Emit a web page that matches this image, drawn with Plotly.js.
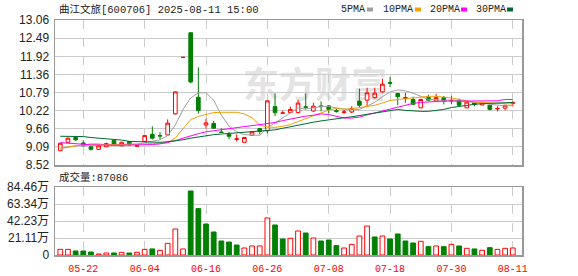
<!DOCTYPE html>
<html>
<head>
<meta charset="utf-8">
<script src="https://cdn.plot.ly/plotly-3.0.1.min.js"></script>
<style>
  html, body { margin: 0; padding: 0; background: #ffffff; }
  #chart { width: 578px; height: 276px; }
</style>
</head>
<body>
<div id="chart"></div>
<script>
const dates = ['05-19','05-20','05-21','05-22','05-23','05-26','05-27','05-28','05-29','05-30',
  '06-03','06-04','06-05','06-06','06-09','06-10','06-11','06-12','06-13','06-16',
  '06-17','06-18','06-19','06-20','06-23','06-24','06-25','06-26','06-27','06-30',
  '07-01','07-02','07-03','07-04','07-07','07-08','07-09','07-10','07-11','07-14',
  '07-15','07-16','07-17','07-18','07-21','07-22','07-23','07-24','07-25','07-28',
  '07-29','07-30','07-31','08-01','08-04','08-05','08-06','08-07','08-08','08-11'];
const tickLabels = ['05-22','06-04','06-16','06-26','07-08','07-18','07-30','08-11'];

const openP = [8.97,9.23,9.38,9.21,9.09,9.01,9.09,9.29,9.12,9.25,
  9.11,9.26,9.48,9.44,9.46,10.12,11.89,12.66,10.64,9.77,
  9.82,9.55,9.48,9.32,9.23,9.45,9.66,9.59,10.35,10.14,
  10.16,10.16,10.34,10.21,10.37,10.37,10.22,10.17,10.18,10.52,
  10.55,10.63,10.81,11.10,10.76,10.60,10.57,10.31,10.63,10.52,
  10.63,10.53,10.55,10.31,10.47,10.40,10.39,10.28,10.30,10.45];
const highP = [9.21,9.38,9.39,9.30,9.10,9.14,9.22,9.30,9.25,9.26,
  9.15,9.45,9.73,9.55,9.95,10.82,11.89,12.67,11.58,9.97,
  9.90,9.67,9.56,9.48,9.40,9.58,9.68,10.54,10.76,10.22,
  10.35,10.56,10.76,10.47,10.51,10.40,10.28,10.25,10.36,10.91,
  10.94,10.94,11.22,11.28,10.78,10.78,10.66,10.60,10.72,10.75,
  10.68,10.68,10.60,10.50,10.49,10.48,10.40,10.36,10.40,10.52];
const lowP = [8.95,9.21,9.27,9.10,8.97,9.00,9.08,9.14,9.11,9.14,
  9.10,9.25,9.32,9.32,9.44,10.10,11.89,11.08,10.13,9.66,
  9.66,9.53,9.33,9.26,9.22,9.44,9.48,9.51,10.05,10.12,
  10.14,10.14,10.26,10.19,10.20,10.14,10.16,10.12,10.14,10.31,
  10.36,10.60,10.78,10.96,10.39,10.47,10.41,10.30,10.53,10.50,
  10.42,10.42,10.38,10.30,10.36,10.39,10.23,10.20,10.23,10.35];
const closeP = [9.20,9.36,9.31,9.12,9.01,9.12,9.19,9.17,9.23,9.15,
  9.12,9.44,9.36,9.43,9.83,10.81,11.89,11.12,10.23,9.84,
  9.67,9.54,9.42,9.34,9.38,9.56,9.57,10.53,10.16,10.15,
  10.26,10.46,10.33,10.36,10.35,10.26,10.20,10.18,10.29,10.39,
  10.78,10.77,11.05,11.08,10.66,10.63,10.42,10.57,10.55,10.63,
  10.52,10.54,10.39,10.49,10.42,10.47,10.26,10.29,10.39,10.47];

const ma5 = [9.03,9.08,9.12,9.15,9.18,9.18,9.15,9.13,9.14,9.17,
  9.17,9.22,9.26,9.31,9.44,9.77,10.26,10.62,10.78,10.78,
  10.55,10.08,9.74,9.56,9.47,9.45,9.45,9.68,9.84,10.00,
  10.14,10.31,10.27,10.31,10.35,10.35,10.30,10.27,10.25,10.26,
  10.37,10.48,10.66,10.81,10.87,10.84,10.77,10.67,10.57,10.56,
  10.54,10.56,10.53,10.51,10.47,10.46,10.41,10.39,10.37,10.38];
const ma10 = [9.05,9.09,9.12,9.14,9.15,9.16,9.17,9.17,9.17,9.17,
  9.17,9.18,9.19,9.20,9.21,9.37,9.64,9.94,10.04,10.11,
  10.16,10.17,10.18,10.17,10.12,10.00,9.77,9.71,9.70,9.73,
  9.79,9.88,9.97,10.08,10.17,10.24,10.29,10.27,10.28,10.31,
  10.36,10.39,10.46,10.54,10.57,10.60,10.62,10.65,10.67,10.67,
  10.65,10.62,10.57,10.52,10.49,10.48,10.46,10.45,10.44,10.43];
const ma20 = [9.22,9.21,9.19,9.17,9.15,9.14,9.14,9.14,9.14,9.14,
  9.14,9.15,9.16,9.18,9.22,9.28,9.36,9.44,9.50,9.56,
  9.59,9.62,9.65,9.68,9.71,9.74,9.77,9.81,9.85,9.91,
  9.96,10.01,10.05,10.08,10.12,10.10,10.04,9.99,9.99,10.02,
  10.09,10.15,10.21,10.27,10.33,10.39,10.45,10.48,10.50,10.51,
  10.52,10.52,10.52,10.52,10.52,10.52,10.52,10.53,10.57,10.57];
const ma30 = [9.42,9.42,9.42,9.41,9.38,9.36,9.35,9.32,9.30,9.26,
  9.25,9.24,9.24,9.23,9.25,9.27,9.31,9.36,9.40,9.44,
  9.47,9.49,9.51,9.52,9.54,9.55,9.57,9.59,9.62,9.67,
  9.72,9.78,9.82,9.86,9.90,9.94,9.97,10.00,10.03,10.07,
  10.11,10.16,10.20,10.24,10.26,10.23,10.21,10.20,10.20,10.22,
  10.26,10.32,10.36,10.40,10.42,10.44,10.45,10.46,10.47,10.48];

const volume = [70000,70000,50000,50000,37000,12000,25000,25000,33000,25000,
  33000,70000,75000,58000,145000,323000,75000,795000,576000,385000,
  286000,174000,161000,124000,87000,112000,112000,460000,373000,199000,
  207000,298000,273000,211000,174000,186000,116000,87000,132000,236000,
  360000,224000,236000,199000,261000,174000,149000,170000,104000,112000,
  104000,132000,112000,83000,75000,58000,91000,70000,83000,87086];
const volumeUp = [1,1,0,0,0,1,1,0,1,0, 1,1,0,1,1,1,1,0,0,0,
  0,0,0,0,1,1,1,1,0,0, 1,1,0,1,0,0,0,1,1,1,
  1,0,1,0,0,0,0,1,0,1, 0,1,0,1,0,1,0,1,1,1];

const priceTicks = [8.52,9.09,9.66,10.22,10.79,11.36,11.92,12.49,13.06];
const priceTickText = ['8.52','9.09','9.66','10.22','10.79','11.36','11.92','12.49','13.06'];
const volTicks = [0,211100,422300,633400,844600];
const volTickText = ['0','21.11万','42.23万','63.34万','84.46万'];

const titleText = '曲江文旅[600706] 2025-08-11 15:00';
const volLabel = '成交量:87086';
const maNames = ['5PMA','10PMA','20PMA','30PMA'];

const RED = '#ff0000', GREEN = '#008000';
const maColors = ['#a0a0a0','#f0a000','#ff00ff','#006a30'];

// plot area in pixels
const L = 55, R = 522, T = 20, B = 255;
const px = p => (p - L) / (R - L);
const py = p => (B - p) / (B - T);

const traces = [];
traces.push({
  type: 'candlestick', x: dates, open: openP, high: highP, low: lowP, close: closeP,
  xaxis: 'x', yaxis: 'y',
  increasing: {line: {color: RED, width: 1}, fillcolor: '#ffffff'},
  decreasing: {line: {color: GREEN, width: 1}, fillcolor: GREEN},
  whiskerwidth: 0, hoverinfo: 'skip', showlegend: false
});
[ma5, ma10, ma20, ma30].forEach((m, k) => {
  traces.push({type: 'scatter', mode: 'lines', x: dates, y: m, xaxis: 'x', yaxis: 'y',
    line: {color: maColors[k], width: 1}, hoverinfo: 'skip', showlegend: false});
});
traces.push({
  type: 'bar', x: dates, y: volume, xaxis: 'x2', yaxis: 'y2', width: 0.62,
  marker: {color: volumeUp.map(u => u ? '#ffffff' : GREEN),
           line: {color: volumeUp.map(u => u ? RED : GREEN), width: 1}},
  hoverinfo: 'skip', showlegend: false
});

const axisCommon = {
  type: 'category', range: [-0.69, 60.2], tickmode: 'array', tickvals: tickLabels,
  showgrid: true, gridcolor: '#cccccc', griddash: 'dash', gridwidth: 1,
  showline: true, mirror: true, linecolor: '#999999', linewidth: 1.5,
  zeroline: false, fixedrange: true
};

const layout = {
  width: 578, height: 276,
  margin: {l: L, r: 578 - R, t: T, b: 276 - B, pad: 0},
  paper_bgcolor: '#ffffff', plot_bgcolor: '#ffffff',
  showlegend: false, boxgap: 0.32,
  xaxis: Object.assign({}, axisCommon, {anchor: 'y', showticklabels: false, ticks: '',
    rangeslider: {visible: false}}),
  xaxis2: Object.assign({}, axisCommon, {anchor: 'y2', matches: 'x', showticklabels: true,
    ticks: 'outside', ticklen: 3, tickcolor: 'rgba(0,0,0,0)',
    tickfont: {family: 'Liberation Mono, DejaVu Sans Mono, monospace', size: 10, color: RED}}),
  yaxis: {domain: [(B - 165) / (B - T), 1], range: [8.52, 13.06], tickmode: 'array',
    tickvals: priceTicks, ticktext: priceTickText, showgrid: true, gridcolor: '#cccccc',
    showline: true, mirror: true, linecolor: '#999999', linewidth: 1.5, zeroline: false,
    ticks: '', ticklabelstandoff: 2,
    tickfont: {family: 'Liberation Sans, Arial, sans-serif', size: 12, color: '#222222'}},
  yaxis2: {domain: [0, (B - 187) / (B - T)], range: [0, 844600], tickmode: 'array',
    tickvals: volTicks, ticktext: volTickText, showgrid: true, gridcolor: '#cccccc',
    showline: true, mirror: true, linecolor: '#999999', linewidth: 1.5, zeroline: false,
    ticks: '', ticklabelstandoff: 2,
    tickfont: {family: 'Liberation Sans, Arial, Noto Sans CJK SC, sans-serif', size: 12, color: '#222222'}},
  annotations: [],
  shapes: []
};

const monoFont = 'Liberation Mono, Noto Sans CJK SC, monospace';
layout.annotations.push({xref: 'paper', yref: 'paper', x: px(57), y: py(10), xanchor: 'left',
  yanchor: 'middle', showarrow: false, text: titleText,
  font: {family: monoFont, size: 10.5, color: '#222222'}});
layout.annotations.push({xref: 'paper', yref: 'paper', x: px(57), y: py(177.5), xanchor: 'left',
  yanchor: 'middle', showarrow: false, text: volLabel,
  font: {family: monoFont, size: 10.5, color: '#222222'}});

const legendX = [339, 381, 428, 474];
const squareX = [367, 415, 461, 507];
maNames.forEach((n, k) => {
  layout.annotations.push({xref: 'paper', yref: 'paper', x: px(legendX[k]), y: py(10),
    xanchor: 'left', yanchor: 'middle', showarrow: false, text: n,
    font: {family: monoFont, size: 10, color: '#222222'}});
  layout.shapes.push({type: 'rect', xref: 'paper', yref: 'paper',
    x0: px(squareX[k]), x1: px(squareX[k] + 6), y0: py(11.5), y1: py(7.5),
    line: {width: 0}, fillcolor: maColors[k]});
});

// faint watermark behind the data
layout.shapes.push({type: 'rect', xref: 'paper', yref: 'paper', layer: 'below',
  x0: px(235), x1: px(395), y0: py(105), y1: py(70), line: {width: 0},
  fillcolor: 'rgba(0,0,0,0)',
  label: {text: '东方财富', textposition: 'middle center',
    font: {family: 'Noto Sans CJK SC', size: 36, color: '#e4e4e4', weight: 'bold'}}});

Plotly.newPlot('chart', traces, layout, {staticPlot: true, displayModeBar: false});
</script>
</body>
</html>
